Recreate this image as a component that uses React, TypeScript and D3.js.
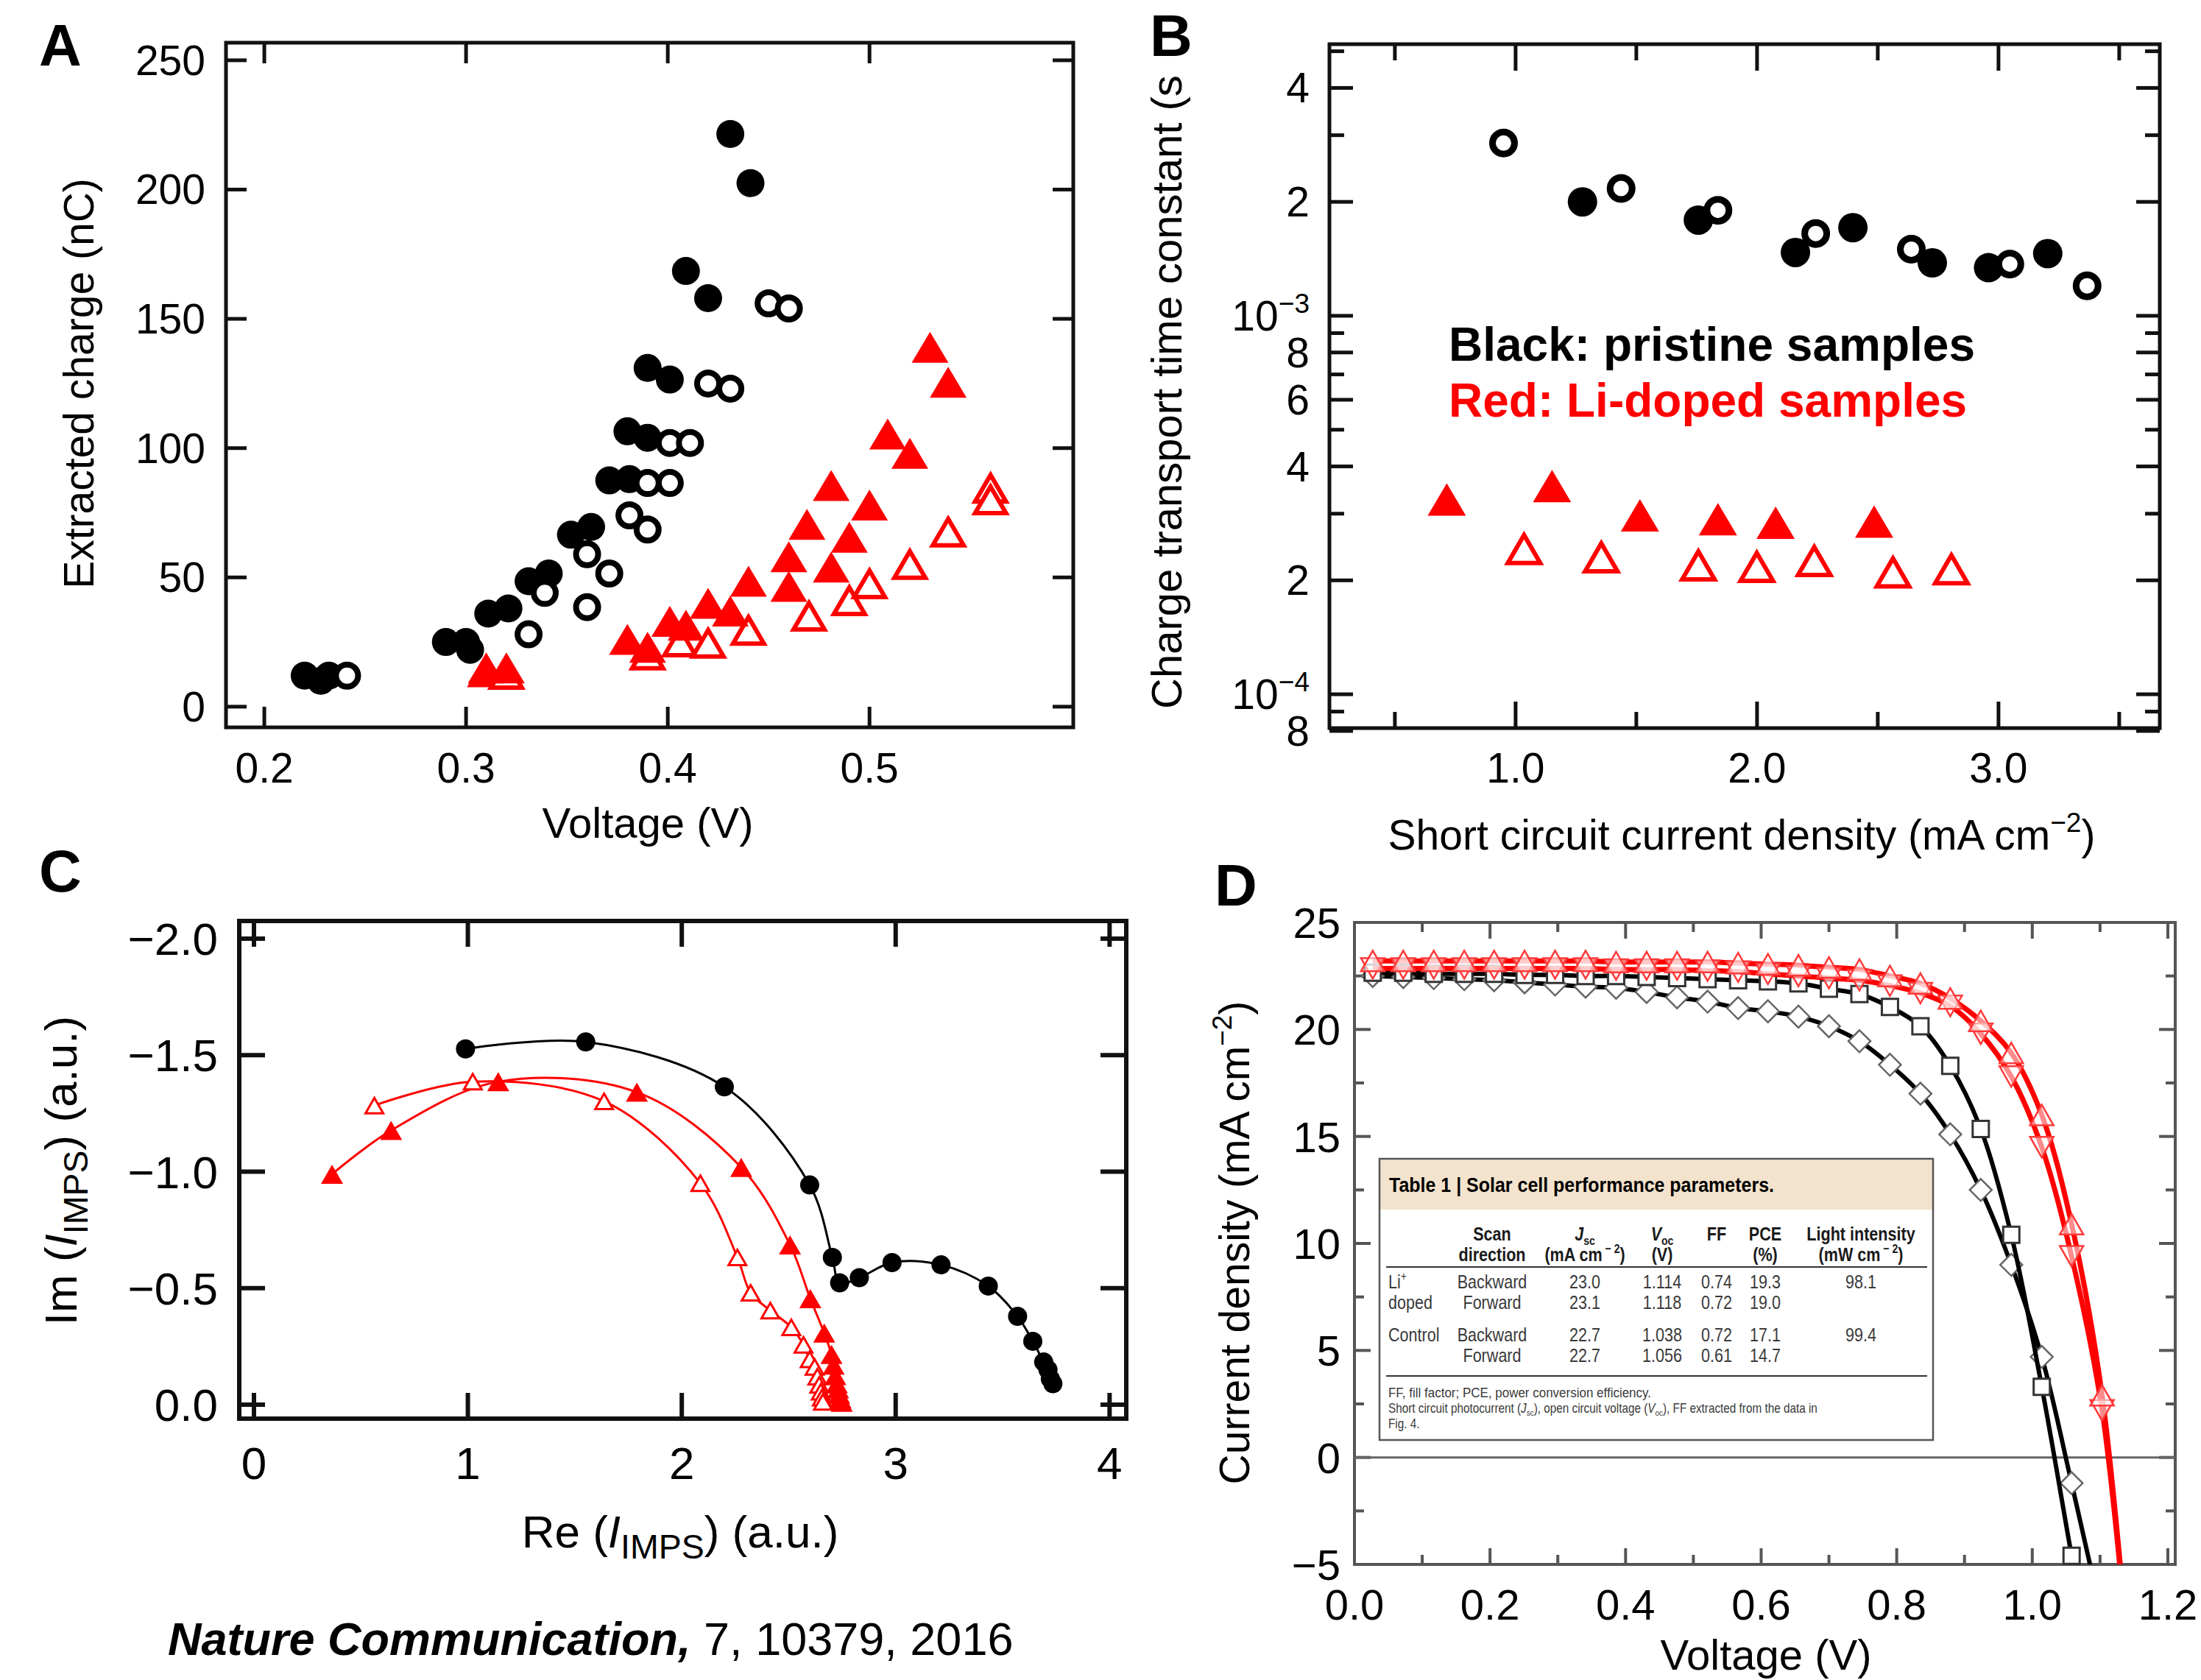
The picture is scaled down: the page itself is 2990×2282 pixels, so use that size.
import React, { useEffect, useRef } from "react";
import * as d3 from "d3";

const SANS = "'Liberation Sans', Arial, Helvetica, sans-serif";
const RED = "#ff0000";

// ---------------- Panel A : extracted charge vs voltage ----------------
const aFilledCircleV = [0.220, 0.228, 0.232, 0.290, 0.300, 0.302, 0.311, 0.321, 0.331, 0.341, 0.352, 0.362, 0.371, 0.381, 0.380, 0.390, 0.390, 0.401, 0.409, 0.420, 0.431, 0.441];
const aFilledCircleQ = [12, 10, 12, 25, 25, 22, 36, 38, 48.5, 51.5, 66.5, 69.5, 87.5, 88, 106.5, 104, 131, 126.5, 168.5, 158, 221.5, 202.5];
const aOpenCircleV = [0.241, 0.331, 0.339, 0.360, 0.360, 0.371, 0.381, 0.390, 0.390, 0.401, 0.401, 0.411, 0.420, 0.431, 0.450, 0.460];
const aOpenCircleQ = [12, 28, 44, 38.5, 59, 51.5, 74, 68.5, 86.5, 86.5, 102, 102, 125, 123, 156, 154];
const aFilledTriV = [0.310, 0.320, 0.380, 0.390, 0.401, 0.409, 0.420, 0.431, 0.440, 0.460, 0.460, 0.469, 0.481, 0.481, 0.490, 0.500, 0.509, 0.520, 0.530, 0.539];
const aFilledTriQ = [15, 15, 26, 23, 33, 31.5, 40, 37, 48.5, 58, 46.5, 70.5, 85.5, 54, 65.5, 78, 105.5, 98, 139, 125.5];
const aOpenTriV = [0.310, 0.320, 0.390, 0.406, 0.420, 0.440, 0.470, 0.490, 0.500, 0.520, 0.539, 0.560, 0.560];
const aOpenTriQ = [13.5, 12.5, 20, 25, 24.5, 29.5, 35, 41, 47.5, 55, 67.5, 84.5, 80];
const aXTicks = [0.2, 0.3, 0.4, 0.5];
const aXTickLabels = ["0.2", "0.3", "0.4", "0.5"];
const aYTicks = [0, 50, 100, 150, 200, 250];
const aYTickLabels = ["0", "50", "100", "150", "200", "250"];

// ---------------- Panel B : transport time constant vs Jsc ----------------
const bOpenCircleJ = [0.95, 1.437, 1.838, 2.243, 2.639, 3.047, 3.367];
const bOpenCircleTau = [2.86e-3, 2.17e-3, 1.9e-3, 1.65e-3, 1.5e-3, 1.37e-3, 1.2e-3];
const bFilledCircleJ = [1.277, 1.757, 2.159, 2.397, 2.726, 2.959, 3.204];
const bFilledCircleTau = [2.0e-3, 1.79e-3, 1.47e-3, 1.71e-3, 1.38e-3, 1.34e-3, 1.46e-3];
const bFilledTriJ = [0.715, 1.151, 1.515, 1.838, 2.077, 2.485];
const bFilledTriTau = [3.27e-4, 3.55e-4, 2.97e-4, 2.9e-4, 2.84e-4, 2.86e-4];
const bOpenTriJ = [1.035, 1.355, 1.757, 1.999, 2.237, 2.563, 2.805];
const bOpenTriTau = [2.42e-4, 2.3e-4, 2.19e-4, 2.17e-4, 2.25e-4, 2.1e-4, 2.14e-4];
const bXMajor = [1, 2, 3];
const bXMajorLabels = ["1.0", "2.0", "3.0"];
const bXMinor = [0.5, 1.5, 2.5, 3.5];
const bYMajor = [8e-5, 1e-4, 2e-4, 4e-4, 6e-4, 8e-4, 1e-3, 2e-3, 4e-3];
const bYMajorLabels = ["8", "10|−4", "2", "4", "6", "8", "10|−3", "2", "4"];
const bYMinor = [9e-5, 3e-4, 5e-4, 7e-4, 9e-4, 3e-3, 5e-3];

// ---------------- Panel C : IMPS Nyquist ----------------
const cBlackRe = [0.989, 1.551, 2.199, 2.598, 2.704, 2.738, 2.83, 2.983, 3.212, 3.433, 3.57, 3.641, 3.692, 3.712, 3.723, 3.735];
const cBlackIm = [-1.527, -1.557, -1.364, -0.943, -0.632, -0.523, -0.545, -0.61, -0.6, -0.509, -0.379, -0.272, -0.183, -0.15, -0.111, -0.09];
const cLiFilledRe = [0.365, 0.641, 1.142, 1.79, 2.278, 2.506, 2.601, 2.666, 2.7, 2.71, 2.718, 2.725, 2.731, 2.736, 2.742, 2.748];
const cLiFilledIm = [-0.989, -1.177, -1.386, -1.341, -1.018, -0.686, -0.455, -0.307, -0.216, -0.17, -0.125, -0.09, -0.068, -0.045, -0.025, -0.01];
const cLiOpenRe = [0.563, 1.023, 1.637, 2.087, 2.26, 2.322, 2.414, 2.512, 2.569, 2.598, 2.621, 2.634, 2.643, 2.65, 2.655, 2.66];
const cLiOpenIm = [-1.284, -1.386, -1.302, -0.95, -0.632, -0.48, -0.404, -0.332, -0.257, -0.194, -0.162, -0.12, -0.085, -0.055, -0.03, -0.012];
const cXTicks = [0, 1, 2, 3, 4];
const cXTickLabels = ["0", "1", "2", "3", "4"];
const cYTicks = [-2, -1.5, -1, -0.5, 0];
const cYTickLabels = ["−2.0", "−1.5", "−1.0", "−0.5", "0.0"];

// ---------------- Panel D : J-V curves ----------------
const dVoltage = [0.027, 0.072, 0.117, 0.162, 0.206, 0.251, 0.296, 0.341, 0.386, 0.431, 0.476, 0.521, 0.566, 0.61, 0.655, 0.7, 0.745, 0.79, 0.835, 0.879, 0.924, 0.969, 1.014, 1.058, 1.103, 1.148];
const dLiUp = [23.2, 23.2, 23.2, 23.2, 23.2, 23.2, 23.2, 23.2, 23.15, 23.15, 23.15, 23.15, 23.1, 23.05, 23.0, 22.9, 22.8, 22.5, 22.15, 21.45, 20.4, 18.9, 16.0, 10.9, 2.9, -11.5];
const dLiDown = [22.85, 22.85, 22.85, 22.85, 22.85, 22.85, 22.85, 22.85, 22.8, 22.8, 22.8, 22.75, 22.7, 22.6, 22.5, 22.4, 22.3, 22.05, 21.7, 21.1, 19.8, 17.8, 14.5, 9.4, 2.2, -11.5];
const dCtrlSquare = [22.65, 22.65, 22.6, 22.6, 22.6, 22.55, 22.55, 22.5, 22.5, 22.45, 22.4, 22.35, 22.3, 22.25, 22.15, 21.9, 21.65, 21.05, 20.15, 18.3, 15.35, 10.4, 3.3, -4.6, -12.6, -21];
const dCtrlDiamond = [22.5, 22.45, 22.4, 22.35, 22.3, 22.2, 22.1, 22.0, 21.95, 21.75, 21.5, 21.3, 21.0, 20.85, 20.6, 20.15, 19.45, 18.35, 17.0, 15.1, 12.5, 9.0, 4.7, -1.2, -7.5, -14];
const dXMajor = [0, 0.2, 0.4, 0.6, 0.8, 1.0, 1.2];
const dXMajorLabels = ["0.0", "0.2", "0.4", "0.6", "0.8", "1.0", "1.2"];
const dXMinor = [0.1, 0.3, 0.5, 0.7, 0.9, 1.1];
const dYMajor = [-5, 0, 5, 10, 15, 20, 25];
const dYMajorLabels = ["−5", "0", "5", "10", "15", "20", "25"];
const dYMinor = [-2.5, 2.5, 7.5, 12.5, 17.5, 22.5];

// Table 1 contents
const tableTitle = "Table 1 | Solar cell performance parameters.";
const tableRows = [
  ["Li|+", "Backward", "23.0", "1.114", "0.74", "19.3", "98.1"],
  ["doped", "Forward", "23.1", "1.118", "0.72", "19.0", ""],
  ["Control", "Backward", "22.7", "1.038", "0.72", "17.1", "99.4"],
  ["", "Forward", "22.7", "1.056", "0.61", "14.7", ""],
];
const tableFoot1 = "FF, fill factor; PCE, power conversion efficiency.";
const tableFoot3 = "Fig. 4.";

type Part = { t: string; sup?: boolean; sub?: boolean; italic?: boolean; bold?: boolean; scale?: number };

function rich(parent: any, x: number, y: number, parts: Part[], size: number, o: any = {}) {
  const t = parent
    .append("text")
    .attr("x", x)
    .attr("y", y)
    .attr("font-family", o.family || SANS)
    .attr("font-size", size)
    .attr("fill", o.fill || "#000")
    .attr("text-anchor", o.anchor || "start");
  if (o.weight) t.attr("font-weight", o.weight);
  if (o.italic) t.attr("font-style", "italic");
  if (o.rotate) t.attr("transform", `rotate(-90 ${x} ${y})`);
  if (o.sx) t.attr("x", 0).attr("y", 0).attr("transform", `translate(${x} ${y}) scale(${o.sx} 1)`);
  if (o.textLength) t.attr("textLength", o.textLength).attr("lengthAdjust", "spacingAndGlyphs");
  let shift = 0;
  parts.forEach((p) => {
    const sc = p.scale ?? (p.sup || p.sub ? 0.65 : 1);
    const target = p.sup ? -size * 0.42 : p.sub ? size * 0.24 : 0;
    const ts = t.append("tspan").attr("dy", target - shift).attr("font-size", size * sc).text(p.t);
    shift = target;
    if (p.italic) ts.attr("font-style", "italic");
    if (p.bold) ts.attr("font-weight", "bold");
  });
  return t;
}

function frame(g: any, x0: number, x1: number, top: number, bottom: number,
  xt: { pos: number; len: number }[], yt: { pos: number; len: number }[], stroke: string, sw: number, tsw: number) {
  const tg = g.append("g").attr("stroke", stroke).attr("stroke-width", tsw);
  xt.forEach(({ pos, len }) => {
    tg.append("line").attr("x1", pos).attr("x2", pos).attr("y1", bottom).attr("y2", bottom - len);
    tg.append("line").attr("x1", pos).attr("x2", pos).attr("y1", top).attr("y2", top + len);
  });
  yt.forEach(({ pos, len }) => {
    tg.append("line").attr("y1", pos).attr("y2", pos).attr("x1", x0).attr("x2", x0 + len);
    tg.append("line").attr("y1", pos).attr("y2", pos).attr("x1", x1).attr("x2", x1 - len);
  });
  g.append("rect").attr("x", x0).attr("y", top).attr("width", x1 - x0).attr("height", bottom - top)
    .attr("fill", "none").attr("stroke", stroke).attr("stroke-width", sw);
}

const triUp = (x: number, y: number, w: number, h: number) => `M${x},${y - h / 2}L${x + w / 2},${y + h / 2}L${x - w / 2},${y + h / 2}Z`;
const triDown = (x: number, y: number, w: number, h: number) => `M${x},${y + h / 2}L${x + w / 2},${y - h / 2}L${x - w / 2},${y - h / 2}Z`;
const diamond = (x: number, y: number, r: number) => `M${x},${y - r}L${x + r},${y}L${x},${y + r}L${x - r},${y}Z`;
const square = (x: number, y: number, s: number) => `M${x - s},${y - s}h${2 * s}v${2 * s}h${-2 * s}Z`;

function tickLabel(lbl: string): Part[] {
  if (lbl.includes("|")) {
    const [a, b] = lbl.split("|");
    return [{ t: a }, { t: b, sup: true }];
  }
  return [{ t: lbl }];
}

export default function App() {
  const ref = useRef<SVGSVGElement>(null);

  useEffect(() => {
    const root = d3.select(ref.current as SVGSVGElement);
    root.selectAll("*").remove();
    root.append("rect").attr("width", 2990).attr("height", 2282).attr("fill", "#fff");

    // panel letters
    const letters: [string, number, number][] = [["A", 53, 89], ["B", 1562, 76], ["C", 53, 1211], ["D", 1650, 1230]];
    letters.forEach(([l, x, y]) => rich(root, x, y, [{ t: l }], 80, { weight: "bold" }));

    // ================= Panel A =================
    {
      const g = root.append("g");
      const x = d3.scaleLinear().domain([0.181, 0.601]).range([307, 1458]);
      const y = d3.scaleLinear().domain([-8, 256.8]).range([988, 58]);
      frame(g, 307, 1458, 58, 988,
        aXTicks.map((v) => ({ pos: x(v), len: 28 })),
        aYTicks.map((v) => ({ pos: y(v), len: 28 })), "#111", 5, 5);
      aYTicks.forEach((v, i) => rich(g, 279, y(v) + 20, [{ t: aYTickLabels[i] }], 57, { anchor: "end" }));
      aXTicks.forEach((v, i) => rich(g, x(v), 1063, [{ t: aXTickLabels[i] }], 57, { anchor: "middle" }));
      rich(g, 880, 1138, [{ t: "Voltage (V)" }], 58, { anchor: "middle" });
      rich(g, 127, 521, [{ t: "Extracted charge (nC)" }], 57, { anchor: "middle", rotate: true });

      aFilledCircleV.forEach((v, i) => g.append("circle").attr("cx", x(v)).attr("cy", y(aFilledCircleQ[i])).attr("r", 19).attr("fill", "#000"));
      aOpenCircleV.forEach((v, i) => g.append("circle").attr("cx", x(v)).attr("cy", y(aOpenCircleQ[i])).attr("r", 15)
        .attr("fill", "#fff").attr("stroke", "#000").attr("stroke-width", 8));
      aOpenTriV.forEach((v, i) => g.append("path").attr("d", triUp(x(v), y(aOpenTriQ[i]), 42, 36))
        .attr("fill", "#fff").attr("stroke", RED).attr("stroke-width", 6).attr("stroke-linejoin", "miter"));
      aFilledTriV.forEach((v, i) => g.append("path").attr("d", triUp(x(v), y(aFilledTriQ[i]), 50, 42)).attr("fill", RED));
    }

    // ================= Panel B =================
    {
      const g = root.append("g");
      const x = d3.scaleLinear().domain([0.229, 3.668]).range([1806, 2934]);
      const y = d3.scaleLog().domain([8.14e-5, 5.22e-3]).range([989, 60]);
      frame(g, 1806, 2934, 60, 989,
        [...bXMajor.map((v) => ({ pos: x(v), len: 36 })), ...bXMinor.map((v) => ({ pos: x(v), len: 22 }))],
        [...bYMajor.map((v) => ({ pos: y(v), len: 32 })), ...bYMinor.map((v) => ({ pos: y(v), len: 20 }))],
        "#111", 5, 5);
      bYMajor.forEach((v, i) => rich(g, 1779, y(v) + 20, tickLabel(bYMajorLabels[i]), 57, { anchor: "end" }));
      bXMajor.forEach((v, i) => rich(g, x(v), 1063, [{ t: bXMajorLabels[i] }], 57, { anchor: "middle" }));
      rich(g, 2366, 1154, [{ t: "Short circuit current density (mA cm" }, { t: "−2", sup: true }, { t: ")" }], 57, { anchor: "middle" });
      rich(g, 1605, 963, [{ t: "Charge transport time constant (s" }], 58, { anchor: "start", rotate: true });

      bFilledCircleJ.forEach((v, i) => g.append("circle").attr("cx", x(v)).attr("cy", y(bFilledCircleTau[i])).attr("r", 20).attr("fill", "#000"));
      bOpenCircleJ.forEach((v, i) => g.append("circle").attr("cx", x(v)).attr("cy", y(bOpenCircleTau[i])).attr("r", 15)
        .attr("fill", "#fff").attr("stroke", "#000").attr("stroke-width", 9));
      bOpenTriJ.forEach((v, i) => g.append("path").attr("d", triUp(x(v), y(bOpenTriTau[i]), 44, 38))
        .attr("fill", "#fff").attr("stroke", RED).attr("stroke-width", 6));
      bFilledTriJ.forEach((v, i) => g.append("path").attr("d", triUp(x(v), y(bFilledTriTau[i]), 52, 44)).attr("fill", RED));

      rich(g, 1968, 490, [{ t: "Black: pristine samples" }], 64, { weight: "bold" });
      rich(g, 1968, 566, [{ t: "Red: Li-doped samples" }], 64, { weight: "bold", fill: RED });
    }

    // ================= Panel C =================
    {
      const g = root.append("g");
      const x = d3.scaleLinear().domain([-0.0688, 4.078]).range([325, 1530]);
      const y = d3.scaleLinear().domain([-2.076, 0.06]).range([1251, 1927]);
      frame(g, 325, 1530, 1251, 1927,
        cXTicks.map((v) => ({ pos: x(v), len: 35 })),
        cYTicks.map((v) => ({ pos: y(v), len: 35 })), "#111", 6, 6);
      cYTicks.forEach((v, i) => rich(g, 296, y(v) + 22, [{ t: cYTickLabels[i] }], 62, { anchor: "end" }));
      cXTicks.forEach((v, i) => rich(g, x(v), 2009, [{ t: cXTickLabels[i] }], 62, { anchor: "middle" }));
      rich(g, 924, 2102, [{ t: "Re (" }, { t: "I", italic: true }, { t: "IMPS", sub: true, scale: 0.75 }, { t: ") (a.u.)" }], 62, { anchor: "middle" });
      rich(g, 104, 1590, [{ t: "Im (" }, { t: "I", italic: true }, { t: "IMPS", sub: true, scale: 0.75 }, { t: ") (a.u.)" }], 62, { anchor: "middle", rotate: true });

      const line = d3.line<[number, number]>().x((d) => x(d[0])).y((d) => y(d[1])).curve(d3.curveCatmullRom.alpha(0.5));
      const black = cBlackRe.map((v, i) => [v, cBlackIm[i]] as [number, number]);
      const liF = cLiFilledRe.map((v, i) => [v, cLiFilledIm[i]] as [number, number]);
      const liO = cLiOpenRe.map((v, i) => [v, cLiOpenIm[i]] as [number, number]);
      g.append("path").attr("d", line(black)).attr("fill", "none").attr("stroke", "#000").attr("stroke-width", 3);
      g.append("path").attr("d", line(liO)).attr("fill", "none").attr("stroke", RED).attr("stroke-width", 3);
      g.append("path").attr("d", line(liF)).attr("fill", "none").attr("stroke", RED).attr("stroke-width", 3);
      black.forEach((d) => g.append("circle").attr("cx", x(d[0])).attr("cy", y(d[1])).attr("r", 13).attr("fill", "#000"));
      liO.forEach((d) => g.append("path").attr("d", triUp(x(d[0]), y(d[1]), 24, 21)).attr("fill", "#fff").attr("stroke", RED).attr("stroke-width", 3));
      liF.forEach((d) => g.append("path").attr("d", triUp(x(d[0]), y(d[1]), 30, 26)).attr("fill", RED));

      rich(root, 228, 2248, [{ t: "Nature Communication,", bold: true, italic: true }, { t: " 7, 10379, 2016" }], 63);
    }

    // ================= Panel D =================
    {
      const g = root.append("g");
      const x = d3.scaleLinear().domain([0, 1.2109]).range([1840, 2955]);
      const y = d3.scaleLinear().domain([-5, 25]).range([2125, 1253]);
      const clipId = "clipD";
      root.append("defs").append("clipPath").attr("id", clipId).append("rect")
        .attr("x", 1840).attr("y", 1253).attr("width", 2955 - 1840).attr("height", 2125 - 1253);
      frame(g, 1840, 2955, 1253, 2125,
        [...dXMajor.map((v) => ({ pos: x(v), len: 22 })), ...dXMinor.map((v) => ({ pos: x(v), len: 13 }))],
        [...dYMajor.map((v) => ({ pos: y(v), len: 22 })), ...dYMinor.map((v) => ({ pos: y(v), len: 13 }))],
        "#555", 4, 4);
      g.append("line").attr("x1", 1840).attr("x2", 2955).attr("y1", y(0)).attr("y2", y(0)).attr("stroke", "#666").attr("stroke-width", 3);
      dYMajor.forEach((v, i) => rich(g, 1821, y(v) + 21, [{ t: dYMajorLabels[i] }], 58, { anchor: "end" }));
      dXMajor.forEach((v, i) => rich(g, x(v), 2200, [{ t: dXMajorLabels[i] }], 58, { anchor: "middle" }));
      rich(g, 2399, 2268, [{ t: "Voltage (V)" }], 58, { anchor: "middle" });
      rich(g, 1697, 1688, [{ t: "Current density (mA cm" }, { t: "−2", sup: true }, { t: ")" }], 57, { anchor: "middle", rotate: true });

      const line = d3.line<[number, number]>().x((d) => x(d[0])).y((d) => y(d[1])).curve(d3.curveCatmullRom.alpha(0.5));
      const series = (vals: number[]) => dVoltage.map((v, i) => [v, vals[i]] as [number, number]);
      const visible = (d: [number, number]) => d[1] >= -5.5;
      const lines = g.append("g").attr("clip-path", `url(#${clipId})`);

      const dia = series(dCtrlDiamond);
      lines.append("path").attr("d", line(dia)).attr("fill", "none").attr("stroke", "#000").attr("stroke-width", 6);
      dia.filter(visible).forEach((d) => g.append("path").attr("d", diamond(x(d[0]), y(d[1]), 15))
        .attr("fill", "#fff").attr("stroke", "#666").attr("stroke-width", 2.5));

      const sq = series(dCtrlSquare);
      const lines2 = g.append("g").attr("clip-path", `url(#${clipId})`);
      lines2.append("path").attr("d", line(sq)).attr("fill", "none").attr("stroke", "#000").attr("stroke-width", 6);
      sq.filter(visible).forEach((d) => g.append("path").attr("d", square(x(d[0]), y(d[1]), 11))
        .attr("fill", "#fff").attr("stroke", "#333").attr("stroke-width", 3));

      const dn = series(dLiDown);
      const up = series(dLiUp);
      const lines3 = g.append("g").attr("clip-path", `url(#${clipId})`);
      lines3.append("path").attr("d", line(dn)).attr("fill", "none").attr("stroke", RED).attr("stroke-width", 7);
      lines3.append("path").attr("d", line(up)).attr("fill", "none").attr("stroke", RED).attr("stroke-width", 7);
      dn.filter(visible).forEach((d) => g.append("path").attr("d", triDown(x(d[0]), y(d[1]), 32, 28))
        .attr("fill", "#fff").attr("fill-opacity", 0.55).attr("stroke", "#ff3a3a").attr("stroke-width", 2.5));
      up.filter(visible).forEach((d) => g.append("path").attr("d", triUp(x(d[0]), y(d[1]), 32, 28))
        .attr("fill", "#fff").attr("fill-opacity", 0.55).attr("stroke", "#ff3a3a").attr("stroke-width", 2.5));

      // ---- Table 1 inset ----
      const t = g.append("g");
      const bx = 1874, by = 1574, bw = 752, bh = 382;
      t.append("rect").attr("x", bx).attr("y", by).attr("width", bw).attr("height", bh).attr("fill", "#fff");
      t.append("rect").attr("x", bx).attr("y", by).attr("width", bw).attr("height", 69).attr("fill", "#f3e3cc");
      t.append("rect").attr("x", bx).attr("y", by).attr("width", bw).attr("height", bh).attr("fill", "none").attr("stroke", "#555").attr("stroke-width", 2.5);
      rich(t, 1887, 1619, [{ t: tableTitle }], 28, { weight: "bold", textLength: 523 });
      const cols = [1886, 2027, 2153, 2258, 2332, 2398, 2528];
      const SX = 0.83;
      const hf = { weight: "bold", anchor: "middle", fill: "#1a1a1a", sx: SX };
      rich(t, cols[1], 1685, [{ t: "Scan" }], 26, hf);
      rich(t, cols[2], 1685, [{ t: "J", italic: true }, { t: "sc", sub: true }], 26, hf);
      rich(t, cols[3], 1685, [{ t: "V", italic: true }, { t: "oc", sub: true }], 26, hf);
      rich(t, cols[4], 1685, [{ t: "FF" }], 26, hf);
      rich(t, cols[5], 1685, [{ t: "PCE" }], 26, hf);
      rich(t, cols[6], 1685, [{ t: "Light intensity" }], 26, hf);
      rich(t, cols[1], 1713, [{ t: "direction" }], 26, hf);
      rich(t, cols[2], 1713, [{ t: "(mA cm" }, { t: " − 2", sup: true }, { t: ")" }], 26, hf);
      rich(t, cols[3], 1713, [{ t: "(V)" }], 26, hf);
      rich(t, cols[5], 1713, [{ t: "(%)" }], 26, hf);
      rich(t, cols[6], 1713, [{ t: "(mW cm" }, { t: " − 2", sup: true }, { t: ")" }], 26, hf);
      t.append("line").attr("x1", 1883).attr("x2", 2618).attr("y1", 1721).attr("y2", 1721).attr("stroke", "#333").attr("stroke-width", 2);
      const rowY = [1750, 1778, 1822, 1850];
      tableRows.forEach((row, r) => {
        row.forEach((cell, c) => {
          if (!cell) return;
          rich(t, cols[c], rowY[r], tickLabel(cell), 26, { anchor: c === 0 ? "start" : "middle", fill: "#3a3a3a", sx: SX });
        });
      });
      t.append("line").attr("x1", 1883).attr("x2", 2618).attr("y1", 1869).attr("y2", 1869).attr("stroke", "#333").attr("stroke-width", 2);
      const ff = { fill: "#3a3a3a" };
      rich(t, 1886, 1898, [{ t: tableFoot1 }], 18, { ...ff, textLength: 357 });
      rich(t, 1886, 1919, [
        { t: "Short circuit photocurrent (" }, { t: "J", italic: true }, { t: "sc", sub: true }, { t: "), open circuit voltage (" },
        { t: "V", italic: true }, { t: "oc", sub: true }, { t: "), FF extracted from the data in" }], 18, { ...ff, sx: 0.85 });
      rich(t, 1886, 1940, [{ t: tableFoot3 }], 18, { ...ff, sx: 0.85 });
    }
  }, []);

  return (
    <svg
      ref={ref}
      width={2990}
      height={2282}
      viewBox="0 0 2990 2282"
      style={{ position: "absolute", left: 0, top: 0, display: "block", background: "#fff" }}
    />
  );
}
